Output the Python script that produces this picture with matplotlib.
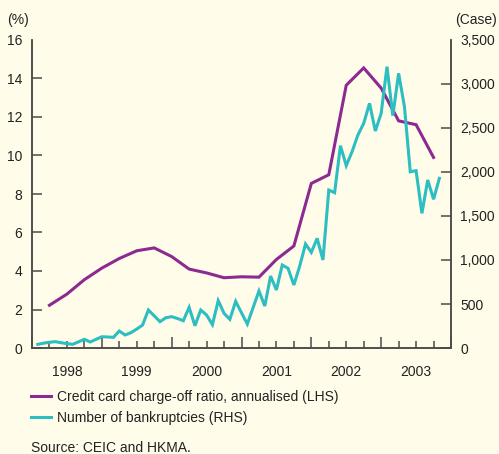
import numpy as np
import matplotlib
matplotlib.use("Agg")
import matplotlib.pyplot as plt
from matplotlib.ticker import FuncFormatter

plt.rcParams['font.family'] = ['Liberation Sans', 'DejaVu Sans']

# credit card charge-off ratio, annualised (%), quarterly from 1998 Q1
charge_off = [2.22, 2.8, 3.55, 4.15, 4.65, 5.05, 5.2, 4.75, 4.1, 3.9, 3.65, 3.7,
              3.68, 4.6, 5.3, 8.55, 9.0, 13.65, 14.55, 13.5, 11.8, 11.6, 9.9]

# number of bankruptcies (cases), monthly from Jan 1998
bankruptcies = [42, 55, 65, 72, 60, 50, 42, 70, 99, 68, 98, 128,
                125, 121, 193, 148, 174, 215, 261, 432, 365, 299, 344, 356,
                335, 310, 462, 253, 432, 375, 265, 538, 394, 326, 530, 400,
                273, 460, 648, 477, 818, 659, 943, 905, 716, 930, 1182, 1087,
                1246, 1000, 1795, 1765, 2299, 2072, 2231, 2420, 2553, 2780, 2466, 2667,
                3197, 2640, 3121, 2742, 2003, 2015, 1530, 1909, 1690, 1928]

bg = '#fffcea'
purple = '#8c2a92'
teal = '#2cbec0'
axis_col = '#4a4a4a'
text_col = '#222222'

t_q = 1998 + 0.25 * np.arange(1, len(charge_off) + 1)
t_m = 1998 + np.arange(1, len(bankruptcies) + 1) / 12.0

fig = plt.figure(figsize=(4.99, 4.54), dpi=100, facecolor=bg)
ax = fig.add_axes([32 / 499, 106 / 454, 419 / 499, 308 / 454])
ax.set_facecolor(bg)
ax2 = ax.twinx()

ln1, = ax.plot(t_q, charge_off, color=purple, lw=2.2, solid_joinstyle='miter')
ln2, = ax2.plot(t_m, bankruptcies, color=teal, lw=2.2, solid_joinstyle='miter')

ax.set_xlim(1998, 2004)
ax.set_ylim(0, 16)
ax2.set_ylim(0, 3500)

for a in (ax, ax2):
    a.spines['top'].set_visible(False)
    for s in ('left', 'right', 'bottom'):
        a.spines[s].set_color(axis_col)
        a.spines[s].set_linewidth(1.1)

# x axis: year boundaries long ticks, quarters short ticks, labels mid-year
ax.set_xticks(np.arange(1998, 2005), labels=[''] * 7)
quarters = [y + q for y in range(1998, 2004) for q in (0.25, 0.5, 0.75)]
qlabels = [str(int(q)) if abs(q % 1 - 0.5) < 1e-6 else '' for q in quarters]
ax.set_xticks(quarters, labels=qlabels, minor=True)
ax.tick_params(axis='x', which='major', direction='in', length=8, width=1.1,
               color=axis_col)
ax.tick_params(axis='x', which='minor', direction='in', length=5, width=1.1,
               color=axis_col, pad=12, labelsize=10, labelcolor=text_col)

ax.set_yticks(np.arange(0, 17, 2))
ax.tick_params(axis='y', direction='in', length=7, width=1.1, color=axis_col,
               pad=7, labelsize=10, labelcolor=text_col)
ax.yaxis.get_major_ticks()[-1].tick1line.set_visible(False)

ax2.set_yticks(np.arange(0, 3501, 500))
ax2.yaxis.set_major_formatter(FuncFormatter(lambda v, p: f'{int(v):,}'))
ax2.tick_params(axis='y', direction='in', length=7, width=1.1, color=axis_col,
                pad=6.5, labelsize=10, labelcolor=text_col)
ax2.yaxis.get_major_ticks()[-1].tick2line.set_visible(False)

fig.text(7 / 499, 1 - 20 / 454, '(%)', fontsize=10, color=text_col,
         ha='left', va='center')
fig.text(497 / 499, 1 - 20 / 454, '(Case)', fontsize=10, color=text_col,
         ha='right', va='center')

fig.legend([ln1, ln2],
           ['Credit card charge-off ratio, annualised (LHS)',
            'Number of bankruptcies (RHS)'],
           loc='upper left', bbox_to_anchor=(31 / 499, 1 - 390 / 454),
           frameon=False, fontsize=10, handlelength=1.45, handletextpad=0.4,
           labelspacing=0.5, borderpad=0, borderaxespad=0, labelcolor=text_col)

fig.text(31 / 499, 1 - 448 / 454, 'Source: CEIC and HKMA.', fontsize=10,
         color=text_col, ha='left', va='center')

fig.savefig('out.png', dpi=100, facecolor=bg)
